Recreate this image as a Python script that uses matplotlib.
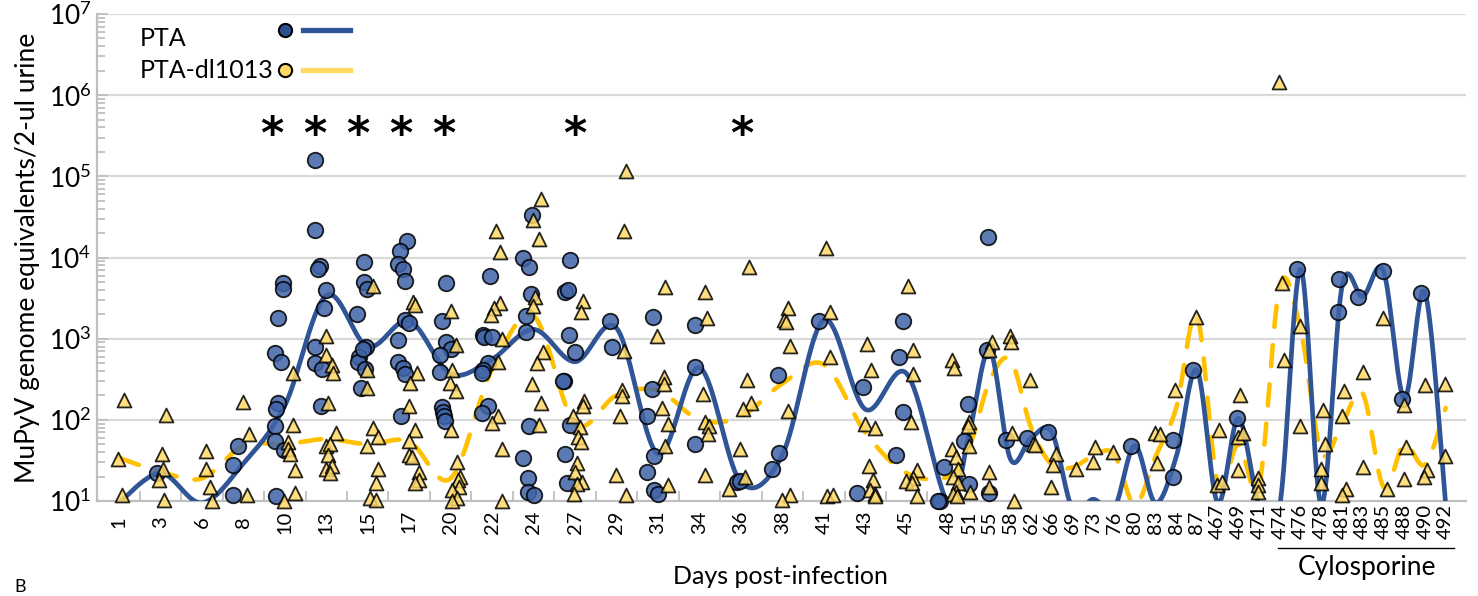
import numpy as np
import matplotlib
matplotlib.use("Agg")
import matplotlib.pyplot as plt
from matplotlib.ticker import FixedLocator, NullFormatter

plt.rcParams['font.family'] = ['Lato', 'DejaVu Sans']
plt.rcParams['mathtext.fontset'] = 'custom'
plt.rcParams['mathtext.rm'] = 'Lato'
plt.rcParams['mathtext.it'] = 'Lato'

# ---------------- data ----------------
days = ['1', '3', '6', '8', '10', '13', '15', '17', '20', '22', '24', '27', '29', '31',
        '34', '36', '38', '41', '43', '45', '48', '51', '55', '58', '62', '66', '69',
        '73', '76', '80', '83', '84', '87', '467', '469', '471', '474', '476', '478',
        '481', '483', '485', '488', '490', '492']

# smoothed trend (value at each day) for each group
pta_line = [9.5, 22, 9.5, 29, 150, 3400, 800, 1650, 370, 560, 1300, 520, 1350, 38,
            440, 17, 37, 1700, 135, 370, 9.5, 65, 720, 33, 60, 70, 8, 10.5, 8, 48,
            9.5, 35, 410, 9.5, 104, 9, 9, 7200, 9, 4400, 3300, 6800, 182, 3700, 9]
dl_line = [34, 23, 19, 48, 50, 58, 50, 54, 19, 420, 1900, 90, 200, 230, 100, 110,
           280, 480, 70, 22, 20, 45, 300, 550, 80, 28, 26, 36, 38, 9, 35, 140, 1900,
           17, 50, 16, 4500, 1300, 40, 90, 210, 15, 50, 28, 140]

# individual samples: x in category units (day index along axis), y = genome eq.
pta_x = [1.83, 5.73, 5.48, 5.48,
         7.90, 7.93, 7.67, 7.51, 7.80, 7.67, 7.59, 7.51, 7.51, 7.96, 7.59,
         9.47, 9.47, 9.70, 9.60, 9.99, 9.90, 9.47, 9.47, 9.81, 9.76,
         11.80, 11.80, 11.96, 11.50, 11.92, 11.59, 11.54, 11.88, 11.67, 11.76,
         13.89, 13.57, 13.47, 13.71, 13.78, 13.78, 14.00, 13.47, 13.47, 13.69, 13.78, 13.60,
         15.77, 15.58, 15.77, 16.00, 15.48, 15.48, 15.58, 15.64, 15.68, 15.73,
         17.90, 17.57, 17.61, 17.98, 17.80, 17.57, 17.50, 17.81, 17.50,
         19.91, 19.47, 19.78, 19.86, 19.62, 19.62, 19.78, 19.47, 19.72, 19.74, 20.02,
         21.76, 21.51, 21.65, 21.72, 22.00, 21.48, 21.42, 21.76, 21.50, 21.63,
         23.69, 23.80,
         25.77, 25.70, 25.49, 25.79, 25.49, 25.79, 25.99,
         27.79, 27.79, 27.79,
         29.80, 29.96,
         31.78, 31.84, 31.52,
         33.78,
         35.90, 35.59,
         37.80, 37.63, 37.80, 37.48,
         39.80, 39.61, 39.49,
         40.94, 40.76, 41.00,
         41.92, 41.86, 41.97,
         42.77, 43.79, 44.83, 48.82, 50.83, 50.83, 51.79, 53.92,
         56.84, 58.87, 58.79, 59.75, 60.96, 61.88, 62.79]
pta_y = [22, 48, 28, 11.7,
         4800, 4100, 1800, 670, 520, 163, 137, 85, 55, 42, 11.5,
         160000, 22000, 7800, 7300, 4000, 2400, 780, 500, 425, 149,
         8900, 5000, 4100, 2000, 790, 600, 520, 420, 245, 740,
         16000, 12000, 8200, 7200, 5100, 1700, 1550, 960, 520, 430, 370, 110,
         4900, 1650, 910, 740, 630, 390, 145, 125, 110, 98,
         5900, 1120, 1050, 1050, 500, 415, 376, 150, 122,
         33500, 9800, 7600, 3550, 1900, 1220, 83, 34, 19, 13, 12,
         9300, 3800, 4000, 1120, 690, 300, 300, 87, 38, 16.6,
         1650, 790,
         1850, 240, 113, 36, 23, 13.8, 12.3,
         1480, 445, 51,
         17, 17.4,
         355, 39, 24.5,
         1650,
         255, 12.6,
         1650, 590, 125, 37,
         26, 10, 10,
         158, 55, 16,
         17800, 720, 12.6,
         56, 59, 71, 48, 56, 20, 410, 104,
         7200, 5400, 2150, 3300, 6800, 182, 3700]

dl_x = [0.23, -0.06, 0.16,
        2.25, 2.09, 2.11, 1.94, 2.17,
        4.18, 4.18, 4.38, 4.49,
        5.98, 6.29, 6.16,
        8.39, 8.39, 8.15, 8.15, 8.23, 8.48, 8.48, 7.96,
        9.97, 9.97, 10.29, 10.32, 10.08, 10.48, 9.97, 10.19, 10.07, 9.97, 10.29, 10.19,
        12.24, 11.95, 11.95, 12.24, 12.48, 11.95, 12.48, 12.40, 12.11, 12.40,
        14.17, 14.28, 14.36, 14.04, 13.98, 14.28, 13.98, 14.00, 14.12, 14.49, 14.46, 14.28,
        16.00, 16.27, 16.06, 15.97, 16.27, 16.00, 16.29, 16.45, 16.37, 16.42, 16.06, 16.32, 16.06,
        18.17, 18.38, 18.38, 18.09, 17.96, 18.46, 18.27, 18.27, 17.98, 18.46, 18.46,
        20.34, 19.99, 20.26, 20.07, 19.96, 20.47, 20.18, 19.94, 20.34, 20.28,
        22.37, 22.29, 21.92, 22.45, 22.37, 22.24, 22.16, 22.29, 22.08, 22.00, 22.32, 22.11, 21.96,
        24.47, 24.38, 24.38, 24.25, 24.26, 24.17, 23.96, 24.47,
        26.35, 25.97, 26.29, 26.29, 26.18, 26.47, 26.35, 26.47,
        28.28, 28.36, 28.16, 28.28, 28.48, 28.40, 28.28,
        30.39, 30.28, 30.47, 30.09, 29.96, 30.20, 29.43,
        32.29, 32.09, 32.16, 32.37, 32.29, 32.37, 31.97,
        34.09, 34.30, 34.30, 34.14, 34.43,
        36.10, 36.26, 35.99, 36.48, 36.18, 36.39, 36.23, 36.48, 36.48,
        38.08, 38.29, 38.29, 38.19, 38.48, 38.32, 37.97, 38.24, 38.48,
        40.17, 40.28, 40.17, 40.38,
        40.49, 40.25, 40.46, 40.38, 40.25, 40.44, 41.02, 40.97, 41.00, 41.05,
        42.10, 41.97, 41.97, 41.97,
        42.98, 43.01, 43.09, 43.17,
        43.95, 44.11, 44.19,
        45.20, 45.07, 44.96,
        46.17, 47.08, 47.00, 47.96,
        49.98, 50.22, 50.06, 50.94, 51.95,
        53.06, 52.95, 53.19,
        54.08, 54.00, 54.21, 53.97,
        54.96, 54.93, 54.93,
        55.97, 56.09, 56.20,
        56.97, 56.97,
        58.10, 58.18, 57.98, 57.98,
        59.09, 58.98, 59.19, 58.98,
        59.99, 59.99,
        60.99, 61.15,
        61.99, 62.07, 61.99,
        63.00, 63.11, 62.97,
        63.96, 63.96]
dl_y = [177, 33, 11.7,
        114, 38, 25, 18, 10.2,
        41, 25, 15, 10,
        166, 66, 12,
        376, 87, 54, 44, 38, 24, 12.6, 10,
        1090, 630, 470, 376, 160, 69, 48, 50, 37, 25, 27, 22,
        4500, 245, 415, 79, 62, 48, 25, 16.6, 10.8, 10.2,
        2800, 2570, 376, 285, 150, 76, 55, 37, 35, 23, 18, 16.6,
        2200, 830, 415, 285, 225, 76, 30, 20, 18, 15, 13.8, 10.8, 10,
        21000, 11700, 2750, 2400, 1930, 980, 520, 110, 91, 44, 10,
        52000, 29000, 17000, 3250, 2500, 690, 500, 275, 160, 87,
        2950, 2150, 112, 170, 149, 81, 62, 53, 29.5, 23, 17, 16, 12.3,
        115000, 21500, 710, 230, 195, 110, 21, 12,
        4300, 1070, 340, 275, 138, 89, 47, 15.8,
        3800, 1780, 210, 93, 83, 66, 21,
        7700, 310, 163, 135, 44, 20, 14,
        2400, 1700, 1600, 810, 129, 12, 10.2,
        13000, 2130, 590, 11.5, 11.7,
        870, 415, 89, 79, 27, 18, 13.8, 12.3, 11.5,
        4500, 720, 370, 94, 24, 19, 17.4, 16.6, 11.5,
        540, 435, 44, 35,
        24.5, 19.6, 16.6, 13, 12.3, 11.5, 95, 83, 48, 13,
        920, 720, 23, 15,
        1070, 920, 69, 10,
        310, 51, 49,
        38, 28, 15,
        25, 46, 30, 40,
        68, 66, 29.5, 230, 1860,
        76, 15.8, 17,
        200, 62, 69, 24,
        19, 15.8, 13,
        1470000, 4800, 550,
        1420, 83,
        132, 50, 24.5, 16.6,
        225, 110, 14, 12,
        390, 26,
        1800, 14,
        152, 46, 18.6,
        270, 24, 19.6,
        275, 36]

sig_x = [7.38, 9.45, 11.53, 13.6, 15.68, 22.0, 30.05]
sig_y = 3.2e5

series_names = ['PTA', 'PTA-dl1013']
bracket_label = 'Cylosporine'
bracket_days = ('474', '492')

# ---------------- helpers ----------------
def smooth(xs, ys, n=40):
    """Excel-like smoothed line (Catmull-Rom Bezier) in (x, log10 y) space."""
    P = np.column_stack([xs, np.log10(ys)])
    P = np.vstack([P[0], P, P[-1]])
    segs = []
    t = np.linspace(0, 1, n)[:, None]
    for i in range(1, len(P) - 2):
        p0, p1, p2, p3 = P[i - 1], P[i], P[i + 1], P[i + 2]
        c1 = p1 + (p2 - p0) / 6.0
        c2 = p2 - (p3 - p1) / 6.0
        seg = ((1 - t) ** 3) * p1 + 3 * ((1 - t) ** 2) * t * c1 + 3 * (1 - t) * t ** 2 * c2 + t ** 3 * p2
        segs.append(seg)
    S = np.vstack(segs)
    return S[:, 0], 10 ** S[:, 1]

pos = np.concatenate([np.arange(0, 40, 2), np.arange(40, 40 + len(days) - 20)]).astype(float)

W, H = 1478, 596
fig = plt.figure(figsize=(W / 100, H / 100), dpi=100)
ax = fig.add_axes([97 / W, 1 - 501 / H, (1466 - 97) / W, (501 - 14) / H])
ax.set_yscale('log')
ax.set_ylim(10, 1e7)
ax.set_xlim(-1.06, 64.98)

BLUE = '#2F5597'
GOLD = '#FFC000'

# grid
for e in range(2, 8):
    ax.axhline(10 ** e, color='#D9D9D9', lw=1.6, zorder=0)

# lines
lx, ly = smooth(pos, dl_line)
ax.plot(lx, ly, color=GOLD, lw=3.3, linestyle=(0, (4.6, 4.0)), dash_capstyle='round', zorder=2)
bx, by = smooth(pos, pta_line)
ax.plot(bx, by, color=BLUE, lw=3.4, solid_capstyle='round', zorder=3)

# markers
ax.scatter(pta_x, pta_y, s=125, marker='o', facecolor='#3F64A8', alpha=0.85,
           edgecolor='black', linewidth=1.3, zorder=4, clip_on=False)
ax.scatter(dl_x, dl_y, s=100, marker='^', facecolor='#FFD966', alpha=0.85,
           edgecolor='black', linewidth=1.3, zorder=5, clip_on=False)

# significance stars
for sx in sig_x:
    ax.text(sx, sig_y, '*', fontsize=32, ha='center', va='center', family='DejaVu Sans',
            fontweight='bold', zorder=6)

# axes styling
for s in ['top', 'right']:
    ax.spines[s].set_visible(False)
for s in ['left', 'bottom']:
    ax.spines[s].set_color('#BFBFBF')
    ax.spines[s].set_linewidth(1.6)

ax.yaxis.set_major_locator(FixedLocator([10 ** e for e in range(1, 8)]))
ax.set_yticklabels([r'$\mathregular{10^{%d}}$' % e for e in range(1, 8)], fontsize=19)
ax.yaxis.set_minor_locator(FixedLocator([m * 10 ** e for e in range(1, 7) for m in range(2, 10)]))
ax.yaxis.set_minor_formatter(NullFormatter())
ax.tick_params(axis='y', which='both', direction='in', color='#BFBFBF', width=1.3, pad=4)
ax.tick_params(axis='y', which='major', length=8)
ax.tick_params(axis='y', which='minor', length=6)

ax.set_xticks(pos)
ax.set_xticklabels(days, rotation=90, fontsize=14.5, va='center')
ax.set_xticks(np.arange(1, 65, 2), minor=True)
ax.tick_params(axis='x', which='major', length=0, pad=15)
ax.tick_params(axis='x', which='minor', direction='in', length=7, color='#BFBFBF', width=1.3)

ax.set_ylabel('MuPyV genome equivalents/2-ul urine', fontsize=19, labelpad=6)

# legend (manual, as in the reference)
def fx(px):
    return px / W
def fy(py):
    return 1 - py / H

fig.text(fx(780), fy(577), 'Days post-infection', fontsize=18, ha='center', va='center')

fig.text(fx(140), fy(38), series_names[0], fontsize=18, va='center', ha='left')
fig.text(fx(140), fy(71), series_names[1], fontsize=18, va='center', ha='left')
fig.add_artist(plt.Line2D([fx(303), fx(350)], [fy(30), fy(30)], color=BLUE, lw=3.8,
                          transform=fig.transFigure))
fig.add_artist(plt.Line2D([fx(303), fx(350)], [fy(70), fy(70)], color='#FFD966', lw=3.8,
                          transform=fig.transFigure))
fig.add_artist(plt.Line2D([fx(285)], [fy(30)], marker='o', markersize=9.5, markerfacecolor='#2E4F8F',
                          markeredgecolor='black', markeredgewidth=1.5, transform=fig.transFigure))
fig.add_artist(plt.Line2D([fx(285)], [fy(70)], marker='o', markersize=9.5, markerfacecolor='#FFD966',
                          markeredgecolor='black', markeredgewidth=1.5, transform=fig.transFigure))

# Cylosporine bracket
i0 = days.index(bracket_days[0]); i1 = days.index(bracket_days[1])
trans = ax.get_xaxis_transform()
yb = (501 - 548) / (501 - 14)
ax.plot([pos[i0] - 0.1, pos[i1] + 0.4], [yb, yb], color='black', lw=1.0, transform=trans, clip_on=False)
ax.text((pos[i0] + pos[i1]) / 2 + 0.2, (501 - 567) / (501 - 14), bracket_label, fontsize=19,
        ha='center', va='center', transform=trans)

# panel letter at the bottom-left corner
fig.text(fx(14), fy(595), 'B', fontsize=13, ha='left', va='bottom')

fig.savefig('out.png', dpi=100)
